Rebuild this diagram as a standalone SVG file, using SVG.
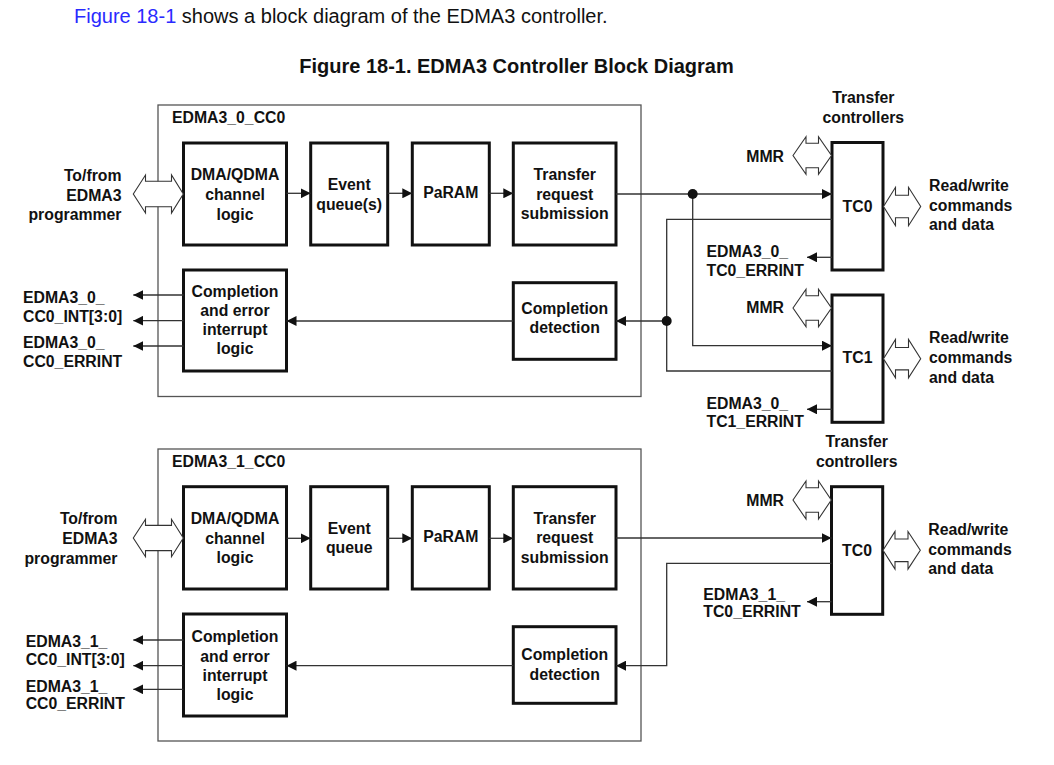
<svg xmlns="http://www.w3.org/2000/svg" width="1054" height="765" viewBox="0 0 1054 765">
<style>
text{font-family:"Liberation Sans",Arial,sans-serif;fill:#111}
.b{font-weight:bold;font-size:15.8px}
.c{text-anchor:middle}
.r{text-anchor:end}
.blk{fill:#fff;stroke:#111;stroke-width:3}
.outer{fill:none;stroke:#555;stroke-width:1.3}
.ln{fill:none;stroke:#333;stroke-width:1.3}
.arw{marker-end:url(#ah)}
.dbl{fill:#fff;stroke:#333;stroke-width:1.1}
</style>
<defs>
<marker id="ah" markerUnits="userSpaceOnUse" markerWidth="10" markerHeight="10" refX="10" refY="5" orient="auto"><path d="M0,0 L10,5 L0,10 Z" fill="#111"/></marker>
</defs>
<rect width="1054" height="765" fill="#fff"/>
<text x="74" y="23" style="font-size:20px"><tspan fill="#2a2aff">Figure 18-1</tspan> shows a block diagram of the EDMA3 controller.</text>
<text x="516.5" y="73.3" class="c" style="font-size:20px;font-weight:bold">Figure 18-1. EDMA3 Controller Block Diagram</text>

<!-- ============ EDMA3_0 ============ -->
<g id="cc0_outer">
<rect class="outer" x="158" y="105" width="483" height="291.5"/>
<text class="b" x="172" y="122.7">EDMA3_0_CC0</text>
</g>
<g id="cc0_dma"><rect class="blk" x="183.5" y="143" width="103" height="102"/>
<text class="b c" x="235" y="180.3">DMA/QDMA</text><text class="b c" x="235" y="200">channel</text><text class="b c" x="235" y="219.7">logic</text></g>
<g id="cc0_evq"><rect class="blk" x="310.7" y="143" width="77" height="102"/>
<text class="b c" x="349.2" y="190">Event</text><text class="b c" x="349.2" y="209.5">queue(s)</text></g>
<g id="cc0_param"><rect class="blk" x="412.3" y="143" width="77" height="102"/>
<text class="b c" x="450.8" y="197.7">PaRAM</text></g>
<g id="cc0_trs"><rect class="blk" x="513.3" y="143" width="102.7" height="102"/>
<text class="b c" x="564.7" y="180">Transfer</text><text class="b c" x="564.7" y="199.5">request</text><text class="b c" x="564.7" y="219">submission</text></g>
<g id="cc0_cd"><rect class="blk" x="513.3" y="282.7" width="102.7" height="76.6"/>
<text class="b c" x="564.7" y="314">Completion</text><text class="b c" x="564.7" y="333">detection</text></g>
<g id="cc0_cel"><rect class="blk" x="183.5" y="270" width="103" height="101"/>
<text class="b c" x="235" y="296.7">Completion</text><text class="b c" x="235" y="316">and error</text><text class="b c" x="235" y="335.2">interrupt</text><text class="b c" x="235" y="354.4">logic</text></g>

<g id="cc0_prog">
<text class="b r" x="121.5" y="181">To/from</text><text class="b r" x="121.5" y="200.5">EDMA3</text><text class="b r" x="121.5" y="219.5">programmer</text>
<path class="dbl" d="M133.3,194 L145.5,175 L145.5,181.2 L171.5,181.2 L171.5,175 L183.3,194 L171.5,213 L171.5,206.8 L145.5,206.8 L145.5,213 Z"/>
</g>
<g id="cc0_outs">
<text class="b" x="23" y="303">EDMA3_0_</text><text class="b" x="23" y="321.5">CC0_INT[3:0]</text>
<text class="b" x="23" y="348">EDMA3_0_</text><text class="b" x="23" y="366.5">CC0_ERRINT</text>
</g>

<g id="tc0_0">
<text class="b c" x="863.3" y="103.3">Transfer</text><text class="b c" x="863.3" y="122.7">controllers</text>
<rect class="blk" x="832" y="142.5" width="51" height="127.5"/>
<text class="b c" x="857.5" y="211.5">TC0</text>
<text class="b r" x="784" y="162.3">MMR</text>
<path class="dbl" d="M793,155.5 L806,136.7 L806,143.3 L818.5,143.3 L818.5,136.7 L831.5,155.5 L818.5,174.3 L818.5,167.7 L806,167.7 L806,174.3 Z"/>
<path class="dbl" d="M883.5,206.5 L895.5,187.3 L895.5,195.3 L908.5,195.3 L908.5,187.3 L920.7,206.5 L908.5,225.7 L908.5,217.7 L895.5,217.7 L895.5,225.7 Z"/>
<text class="b" x="929" y="191">Read/write</text><text class="b" x="929" y="210.7">commands</text><text class="b" x="929" y="230">and data</text>
<text class="b" x="706.5" y="257.3">EDMA3_0_</text><text class="b" x="706.5" y="276">TC0_ERRINT</text>
</g>
<g id="tc1_0">
<rect class="blk" x="832" y="295" width="51" height="127.3"/>
<text class="b c" x="857.5" y="363.3">TC1</text>
<text class="b r" x="784" y="313.3">MMR</text>
<path class="dbl" d="M793,308 L806,289.2 L806,295.8 L818.5,295.8 L818.5,289.2 L831.5,308 L818.5,326.8 L818.5,320.2 L806,320.2 L806,326.8 Z"/>
<path class="dbl" d="M883.5,358.7 L895.5,339.5 L895.5,347.5 L908.5,347.5 L908.5,339.5 L920.7,358.7 L908.5,377.9 L908.5,369.9 L895.5,369.9 L895.5,377.9 Z"/>
<text class="b" x="929" y="343.3">Read/write</text><text class="b" x="929" y="363.3">commands</text><text class="b" x="929" y="382.7">and data</text>
<text class="b" x="706.5" y="409.3">EDMA3_0_</text><text class="b" x="706.5" y="426.7">TC1_ERRINT</text>
</g>

<!-- ============ EDMA3_1 ============ -->
<g id="cc1_outer">
<rect class="outer" x="158" y="449" width="483" height="292"/>
<text class="b" x="172" y="466.7">EDMA3_1_CC0</text>
</g>
<g id="cc1_dma"><rect class="blk" x="183.5" y="486.7" width="103" height="102.3"/>
<text class="b c" x="235" y="524">DMA/QDMA</text><text class="b c" x="235" y="543.5">channel</text><text class="b c" x="235" y="563">logic</text></g>
<g id="cc1_evq"><rect class="blk" x="310.7" y="486.7" width="77" height="102.3"/>
<text class="b c" x="349.2" y="534">Event</text><text class="b c" x="349.2" y="553.3">queue</text></g>
<g id="cc1_param"><rect class="blk" x="412.3" y="486.7" width="77" height="102.3"/>
<text class="b c" x="450.8" y="542">PaRAM</text></g>
<g id="cc1_trs"><rect class="blk" x="513.3" y="486.7" width="102.7" height="102.3"/>
<text class="b c" x="564.7" y="523.5">Transfer</text><text class="b c" x="564.7" y="543">request</text><text class="b c" x="564.7" y="562.5">submission</text></g>
<g id="cc1_cd"><rect class="blk" x="513.3" y="626.7" width="102.7" height="76.6"/>
<text class="b c" x="564.7" y="660">Completion</text><text class="b c" x="564.7" y="679.5">detection</text></g>
<g id="cc1_cel"><rect class="blk" x="183.5" y="614" width="103" height="102"/>
<text class="b c" x="235" y="642">Completion</text><text class="b c" x="235" y="661.5">and error</text><text class="b c" x="235" y="680.7">interrupt</text><text class="b c" x="235" y="700">logic</text></g>

<g id="cc1_prog">
<text class="b r" x="117.5" y="524.3">To/from</text><text class="b r" x="117.5" y="544.3">EDMA3</text><text class="b r" x="117.5" y="563.5">programmer</text>
<path class="dbl" d="M133.3,538 L145.5,519.3 L145.5,525.4 L171.5,525.4 L171.5,519.3 L183.3,538 L171.5,556.7 L171.5,550.6 L145.5,550.6 L145.5,556.7 Z"/>
</g>
<g id="cc1_outs">
<text class="b" x="25.7" y="646.7">EDMA3_1_</text><text class="b" x="25.7" y="664.5">CC0_INT[3:0]</text>
<text class="b" x="25.7" y="691.7">EDMA3_1_</text><text class="b" x="25.7" y="709.3">CC0_ERRINT</text>
</g>

<g id="tc0_1">
<text class="b c" x="856.7" y="447.3">Transfer</text><text class="b c" x="856.7" y="467.3">controllers</text>
<rect class="blk" x="831.5" y="486.7" width="51.2" height="127.6"/>
<text class="b c" x="857" y="556">TC0</text>
<text class="b r" x="784" y="505.7">MMR</text>
<path class="dbl" d="M793,500 L806,481 L806,487.8 L818.5,487.8 L818.5,481 L831.3,500 L818.5,519 L818.5,512.2 L806,512.2 L806,519 Z"/>
<path class="dbl" d="M883,550.3 L895,531.5 L895,539 L908,539 L908,531.5 L920.3,550.3 L908,569.1 L908,561.6 L895,561.6 L895,569.1 Z"/>
<text class="b" x="928.3" y="535">Read/write</text><text class="b" x="928.3" y="555">commands</text><text class="b" x="928.3" y="574">and data</text>
<text class="b" x="703.3" y="600">EDMA3_1_</text><text class="b" x="703.3" y="617.3">TC0_ERRINT</text>
</g>

<!-- ============ connectors ============ -->
<g id="connectors">
<!-- EDMA3_0 internal -->
<path class="ln arw" d="M286.5,193.3 H310.7"/>
<path class="ln arw" d="M387.7,193.3 H412.3"/>
<path class="ln arw" d="M489.3,193.3 H513.3"/>
<path class="ln arw" d="M513.3,321 H286.5"/>
<path class="ln arw" d="M183.5,295 H133.3"/>
<path class="ln arw" d="M183.5,320.7 H133.3"/>
<path class="ln arw" d="M183.5,346 H133.3"/>
<!-- EDMA3_0 to TCs -->
<path class="ln arw" d="M616,194 H832"/>
<path class="ln arw" d="M692.7,194 V345.7 H832"/>
<path class="ln" d="M832,219.3 H666.7 V371 H832"/>
<path class="ln arw" d="M666.7,321 H616"/>
<circle cx="692.7" cy="194" r="5" fill="#111"/>
<circle cx="666.7" cy="321" r="5" fill="#111"/>
<path class="ln arw" d="M832,257.3 H807"/>
<path class="ln arw" d="M832,409.3 H807"/>
<!-- EDMA3_1 internal -->
<path class="ln arw" d="M286.5,538.3 H310.7"/>
<path class="ln arw" d="M387.7,538.3 H412.3"/>
<path class="ln arw" d="M489.3,538.3 H513.3"/>
<path class="ln arw" d="M513.3,665.7 H286.5"/>
<path class="ln arw" d="M183.5,640 H133.3"/>
<path class="ln arw" d="M183.5,665.7 H133.3"/>
<path class="ln arw" d="M183.5,689.3 H133.3"/>
<!-- EDMA3_1 to TC -->
<path class="ln arw" d="M616,538 H831.5"/>
<path class="ln arw" d="M831.5,563.3 H666.7 V665.7 H616"/>
<path class="ln arw" d="M831.5,601.7 H807"/>
</g>
</svg>
